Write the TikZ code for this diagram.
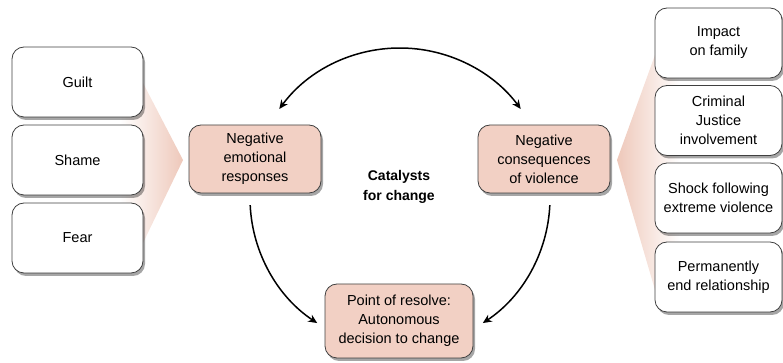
\documentclass[tikz,border=0pt]{standalone}
\usepackage{fontspec}
\setmainfont{Liberation Sans}
\usetikzlibrary{arrows.meta,shadows}
\definecolor{pinkfill}{RGB}{242,208,196}
\definecolor{chev}{RGB}{238,200,186}
\definecolor{boxline}{RGB}{64,64,64}
\tikzset{
  basebox/.style={draw=boxline, line width=0.8pt, rounded corners=12pt, align=center,
    font=\fontsize{14.5}{19}\selectfont, inner sep=2pt,
    drop shadow={shadow xshift=2pt, shadow yshift=-3pt, fill=black, opacity=0.35}},
  sidebox/.style={basebox, fill=white, minimum width=131pt, minimum height=70pt},
  rightbox/.style={basebox, fill=white, minimum width=127pt, minimum height=70pt},
  midbox/.style={basebox, fill=pinkfill, minimum width=132pt, minimum height=68pt},
  arc/.style={line width=1.5pt, -{Stealth[length=9pt,width=8pt]}},
}
\begin{document}
\begin{tikzpicture}[x=1pt,y=1pt]
\useasboundingbox (0,0) rectangle (783,363);
% chevrons
\shade[left color=white, right color=chev] (120,280) -- (143,280) -- (183,203) -- (143,120) -- (120,120) -- cycle;
\shade[left color=chev, right color=white] (680,308) -- (655,308) -- (617,203) -- (655,73) -- (680,73) -- cycle;
% left boxes
\node[sidebox] (guilt) at (77.5,281) {Guilt};
\node[sidebox] (shame) at (77.5,203) {Shame};
\node[sidebox] (fear) at (77.5,125) {Fear};
% right boxes
\node[rightbox] (impact) at (718.5,320) {Impact\\on family};
\node[rightbox] (cj) at (718.5,242.5) {Criminal\\Justice\\involvement};
\node[rightbox] (shock) at (718.5,165) {Shock following\\extreme violence};
\node[rightbox] (perm) at (718.5,86) {Permanently\\end relationship};
% middle boxes
\node[midbox] (emo) at (255,204) {Negative\\emotional\\responses};
\node[midbox] (cons) at (544,204) {Negative\\consequences\\of violence};
\node[midbox, minimum width=148pt, minimum height=74pt] (resolve) at (399,42) {Point of resolve:\\Autonomous\\decision to change};
\node[font=\bfseries\fontsize{14}{20}\selectfont, align=center] (cat) at (399,176) {Catalysts\\for change};
% arcs on a circle
\coordinate (c) at (400,165);
\coordinate (ta) at ([shift={(90:150)}]c);
\draw[line width=1.5pt, {Stealth[length=9pt,width=8pt]}-{Stealth[length=9pt,width=8pt]}] ([shift={(143.6:150)}]c) arc[start angle=143.6, end angle=36.4, radius=150];
\draw[arc] ([shift={(182.7:150)}]c) arc[start angle=182.7, end angle=236.5, radius=150];
\draw[arc] ([shift={(357.3:150)}]c) arc[start angle=357.3, end angle=303.5, radius=150];
\end{tikzpicture}
\end{document}
